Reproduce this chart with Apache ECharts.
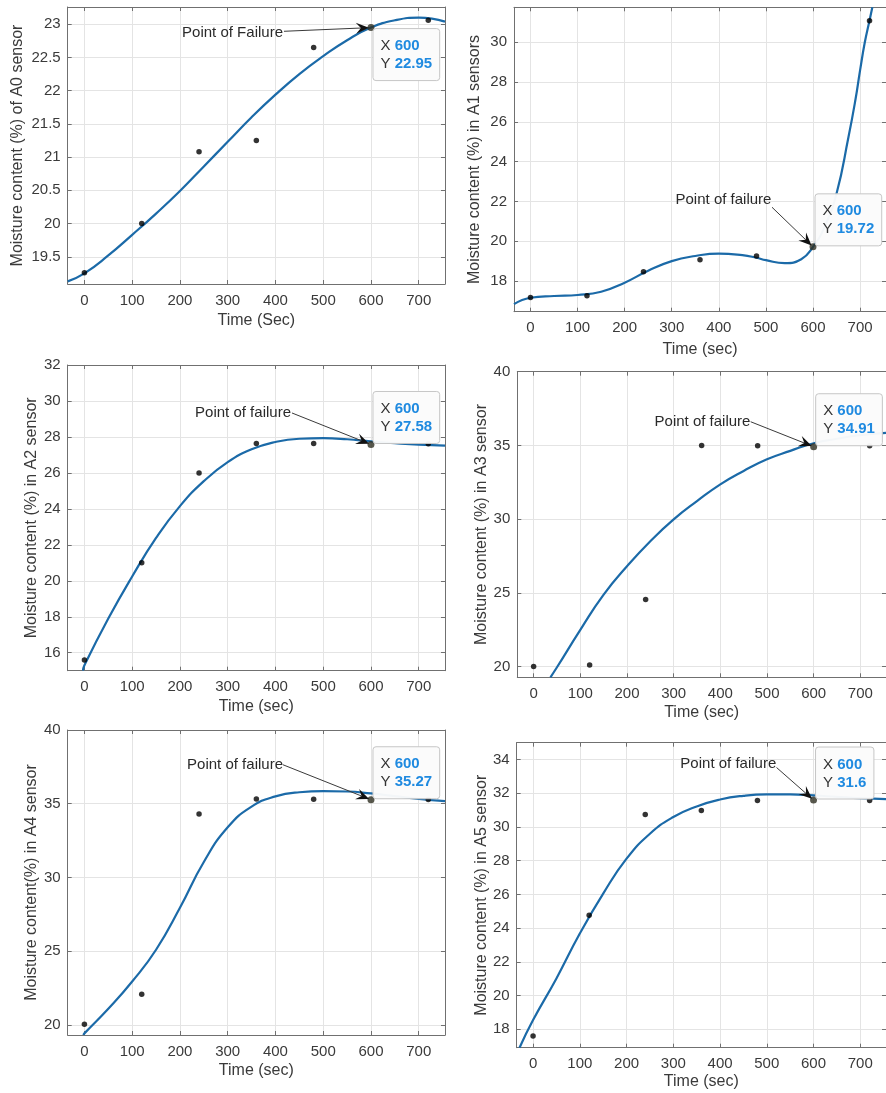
<!DOCTYPE html>
<html><head><meta charset="utf-8">
<script src="https://cdn.jsdelivr.net/npm/echarts@6.0.0/dist/echarts.min.js"></script>
<style>html,body{margin:0;padding:0;background:#fff}#c{width:886px;height:1093px}</style>
</head><body><div id="c"></div>
<script>
// ---------- DATA ----------
const times = [0, 120, 240, 360, 480, 600, 720];
const a0Points = [19.26, 20.0, 21.08, 21.25, 22.65, 22.95, 23.06];
const a1Points = [17.17, 17.26, 18.47, 19.07, 19.26, 19.72, 31.09];
const a2Points = [15.59, 21.0, 25.99, 27.63, 27.63, 27.58, 27.62];
const a3Points = [20.0, 20.11, 24.54, 34.99, 34.97, 34.91, 34.97];
const a4Points = [20.05, 22.08, 34.31, 35.33, 35.31, 35.27, 35.29];
const a5Points = [17.61, 24.77, 30.74, 30.98, 31.57, 31.6, 31.57];

const a0FitX = [-35, 0, 50, 100, 150, 200, 250, 300, 350, 400, 450, 500, 550, 600, 650, 700, 755];
const a0FitY = [19.13, 19.25, 19.52, 19.83, 20.15, 20.49, 20.86, 21.23, 21.6, 21.94, 22.25, 22.52, 22.76, 22.95, 23.06, 23.1, 23.04];
const a1FitX = [-35, 0, 50, 100, 150, 200, 250, 300, 350, 400, 450, 480, 500, 540, 575, 600, 625, 650, 675, 690, 700, 710, 720, 726];
const a1FitY = [16.84, 17.16, 17.25, 17.3, 17.46, 17.92, 18.52, 19.0, 19.26, 19.38, 19.3, 19.17, 19.05, 18.9, 19.1, 19.72, 20.75, 22.4, 25.2, 27.1, 28.6, 30.0, 31.1, 31.76];
const a2FitX = [-3, 0, 50, 100, 150, 200, 250, 300, 350, 400, 450, 500, 550, 600, 650, 700, 755];
const a2FitY = [15.0, 15.3, 17.9, 20.24, 22.38, 24.15, 25.54, 26.6, 27.31, 27.72, 27.9, 27.93, 27.87, 27.75, 27.65, 27.57, 27.52];
const a3FitX = [36, 50, 100, 150, 200, 250, 300, 350, 400, 450, 500, 550, 600, 650, 700, 755];
const a3FitY = [19.27, 19.95, 22.49, 24.88, 26.8, 28.5, 29.98, 31.22, 32.36, 33.27, 34.06, 34.63, 35.15, 35.45, 35.7, 35.85];
const a4FitX = [-2, 0, 50, 100, 150, 200, 250, 300, 350, 400, 450, 500, 550, 600, 650, 700, 755];
const a4FitY = [19.32, 19.43, 21.1, 22.95, 25.1, 27.95, 31.05, 33.4, 34.8, 35.5, 35.78, 35.85, 35.83, 35.7, 35.52, 35.33, 35.18];
const a5FitX = [-29, 0, 50, 100, 150, 200, 250, 300, 350, 400, 450, 500, 550, 600, 650, 700, 755];
const a5FitY = [16.91, 18.55, 21.02, 23.68, 26.05, 28.12, 29.6, 30.59, 31.22, 31.63, 31.85, 31.93, 31.93, 31.87, 31.79, 31.71, 31.65];

const yNames = [
  'Moisture content (%) of A0 sensor',
  'Moisture content (%) in A1 sensors',
  'Moisture content (%) in A2 sensor',
  'Moisture content (%) in A3 sensor',
  'Moisture content(%) in A4 sensor',
  'Moisture content (%) in A5 sensor'
];
const xNames = ['Time (Sec)', 'Time (sec)', 'Time (sec)', 'Time (sec)', 'Time (sec)', 'Time (sec)'];
const failTexts = ['Point of Failure', 'Point of failure', 'Point of failure', 'Point of failure', 'Point of failure', 'Point of failure'];
const xMin = -35, xMax = 755, xStep = 100;
const yMins = [19.09, 16.46, 15.0, 19.27, 19.32, 16.91];
const yMaxs = [23.26, 31.76, 32, 40, 40, 35];
const ySteps = [0.5, 2, 2, 5, 5, 2];
const failTime = 600;

// ---------- LAYOUT / STYLE ----------
const FONT = '"Liberation Sans", Arial, Helvetica, sans-serif';
const TXT = '#3a3a3a';
const AX = '#707070';
const GRIDC = '#e4e4e4';
const BLUE = '#1b6aa8';
const layout = [
  {grid: {left: 67.7, top: 7, width: 377.3, height: 277}, yGap: 42, xGap: 29, txt: [-88, 5.4], arr: [-87, 3.7], below: true},
  {grid: {left: 514, top: 7.3, width: 377, height: 304.4}, yGap: 31, xGap: 30, txt: [-41.6, -47.3], arr: [-41, -39.6], below: false},
  {grid: {left: 67.7, top: 365, width: 377.3, height: 305.7}, yGap: 28, xGap: 28, txt: [-80, -31.2], arr: [-79, -31.5], below: false},
  {grid: {left: 517.3, top: 371.7, width: 377, height: 305.6}, yGap: 27, xGap: 27, txt: [-63.2, -24.8], arr: [-63, -25], below: false},
  {grid: {left: 67.7, top: 730, width: 377.3, height: 305}, yGap: 28, xGap: 28, txt: [-88, -35.3], arr: [-88, -35], below: false},
  {grid: {left: 516.7, top: 742.7, width: 377, height: 305}, yGap: 27, xGap: 26, txt: [-37.3, -36.2], arr: [-37, -32.5], below: false}
];

const pointSets = [a0Points, a1Points, a2Points, a3Points, a4Points, a5Points];
const fitX = [a0FitX, a1FitX, a2FitX, a3FitX, a4FitX, a5FitX];
const fitY = [a0FitY, a1FitY, a2FitY, a3FitY, a4FitY, a5FitY];

function isNice(v, step) { const r = v / step; return Math.abs(r - Math.round(r)) < 1e-6; }

const grids = [], xAxes = [], yAxes = [], series = [];
layout.forEach((L, i) => {
  grids.push(Object.assign({show: false, containLabel: false}, L.grid));
  const lineSt = {show: true, onZero: false, lineStyle: {color: AX, width: 1}};
  const tickSt = {show: true, inside: true, length: 4, lineStyle: {color: AX, width: 1}};
  xAxes.push({
    type: 'value', gridIndex: i, position: 'bottom', min: xMin, max: xMax, minInterval: xStep, maxInterval: xStep,
    name: xNames[i], nameLocation: 'middle', nameGap: L.xGap,
    nameTextStyle: {fontSize: 16, color: TXT, fontFamily: FONT},
    axisLine: lineSt, axisTick: tickSt,
    axisLabel: {fontSize: 15, color: TXT, fontFamily: FONT, margin: 9, showMinLabel: false, showMaxLabel: false},
    splitLine: {show: true, lineStyle: {color: GRIDC, width: 1}}
  });
  xAxes.push({
    type: 'value', gridIndex: i, position: 'top', min: xMin, max: xMax, minInterval: xStep, maxInterval: xStep,
    axisLine: lineSt, axisTick: tickSt, axisLabel: {show: false}, splitLine: {show: false}
  });
  yAxes.push({
    type: 'value', gridIndex: i, position: 'left', min: yMins[i], max: yMaxs[i], minInterval: ySteps[i], maxInterval: ySteps[i],
    name: yNames[i], nameLocation: 'middle', nameGap: L.yGap, nameRotate: 90,
    nameTextStyle: {fontSize: 16, color: TXT, fontFamily: FONT},
    axisLine: lineSt, axisTick: tickSt,
    axisLabel: {fontSize: 15, color: TXT, fontFamily: FONT, margin: 7,
      showMinLabel: isNice(yMins[i], ySteps[i]), showMaxLabel: isNice(yMaxs[i], ySteps[i])},
    splitLine: {show: true, lineStyle: {color: GRIDC, width: 1}}
  });
  yAxes.push({
    type: 'value', gridIndex: i, position: 'right', min: yMins[i], max: yMaxs[i], minInterval: ySteps[i], maxInterval: ySteps[i],
    axisLine: lineSt, axisTick: tickSt, axisLabel: {show: false}, splitLine: {show: false}
  });
  series.push({
    type: 'line', xAxisIndex: 2 * i, yAxisIndex: 2 * i,
    data: fitX[i].map((x, k) => [x, fitY[i][k]]),
    smooth: 0.5, symbol: 'none', clip: true,
    lineStyle: {color: BLUE, width: 2.2}, z: 2, silent: true
  });
  series.push({
    type: 'scatter', xAxisIndex: 2 * i, yAxisIndex: 2 * i,
    data: times.map((t, k) => t === failTime
      ? {value: [t, pointSets[i][k]], symbolSize: 7, itemStyle: {color: '#2e2e20'}}
      : [t, pointSets[i][k]]),
    symbolSize: 5.5, itemStyle: {color: '#000'}, z: 3, silent: true
  });
});

const chart = echarts.init(document.getElementById('c'), null, {renderer: 'canvas'});
chart.setOption({
  animation: false,
  backgroundColor: '#fff',
  grid: grids, xAxis: xAxes, yAxis: yAxes, series: series
});

// ---------- annotations ----------
const mctx = document.createElement('canvas').getContext('2d');
function tw(text, weight) { mctx.font = (weight || 'normal') + ' 15px ' + FONT; return mctx.measureText(text).width; }

const graphics = [];
layout.forEach((L, i) => {
  const k = times.indexOf(failTime);
  const val = pointSets[i][k];
  const p = chart.convertToPixel({seriesIndex: 2 * i + 1}, [failTime, val]);
  const px = p[0], py = p[1];
  graphics.push({type: 'text', x: px + L.txt[0], y: py + L.txt[1], z: 100,
    style: {text: failTexts[i], fontSize: 15, fontFamily: FONT, fill: '#2a2a2a', align: 'right', verticalAlign: 'middle'}});
  const sx = px + L.arr[0], sy = py + L.arr[1];
  let dx = px - sx, dy = py - sy; const len = Math.hypot(dx, dy); dx /= len; dy /= len;
  const tx = px - 2 * dx, ty = py - 2 * dy;
  const H = 13, W = 5.5;
  const nx = -dy, ny = dx;
  const bx = tx - H * dx, by = ty - H * dy;
  const notchX = tx - 0.62 * H * dx, notchY = ty - 0.62 * H * dy;
  graphics.push({type: 'line', z: 100, shape: {x1: sx, y1: sy, x2: notchX, y2: notchY}, style: {stroke: '#3a3a3a', lineWidth: 1}});
  graphics.push({type: 'polygon', z: 101, shape: {points: [[tx, ty], [bx + W * nx, by + W * ny], [notchX, notchY], [bx - W * nx, by - W * ny]]}, style: {fill: '#111'}});
  const vStr = String(val), xStr = String(failTime);
  const wX = tw('X ') + tw(xStr, 'bold'), wY = tw('Y ') + tw(vStr, 'bold');
  const bw = Math.max(wX, wY) + 15, bh = 52;
  const bx0 = px + 2, by0 = L.below ? py + 1 : py - bh - 1;
  graphics.push({type: 'rect', z: 102, shape: {x: bx0, y: by0, width: bw, height: bh, r: 3},
    style: {fill: 'rgba(251,251,251,0.97)', stroke: '#c6c6c6', lineWidth: 1}});
  const rows = [['X', xStr, 17.5], ['Y', vStr, 35.5]];
  rows.forEach(r => {
    graphics.push({type: 'text', z: 103, x: bx0 + 7.5, y: by0 + r[2],
      style: {text: r[0], fontSize: 15, fontFamily: FONT, fill: '#333', verticalAlign: 'middle', align: 'left'}});
    graphics.push({type: 'text', z: 103, x: bx0 + 7.5 + tw(r[0] + ' '), y: by0 + r[2],
      style: {text: r[1], fontSize: 15, fontWeight: 'bold', fontFamily: FONT, fill: '#1f8ae0', verticalAlign: 'middle', align: 'left'}});
  });
});
chart.setOption({graphic: graphics});
</script>
</body></html>
